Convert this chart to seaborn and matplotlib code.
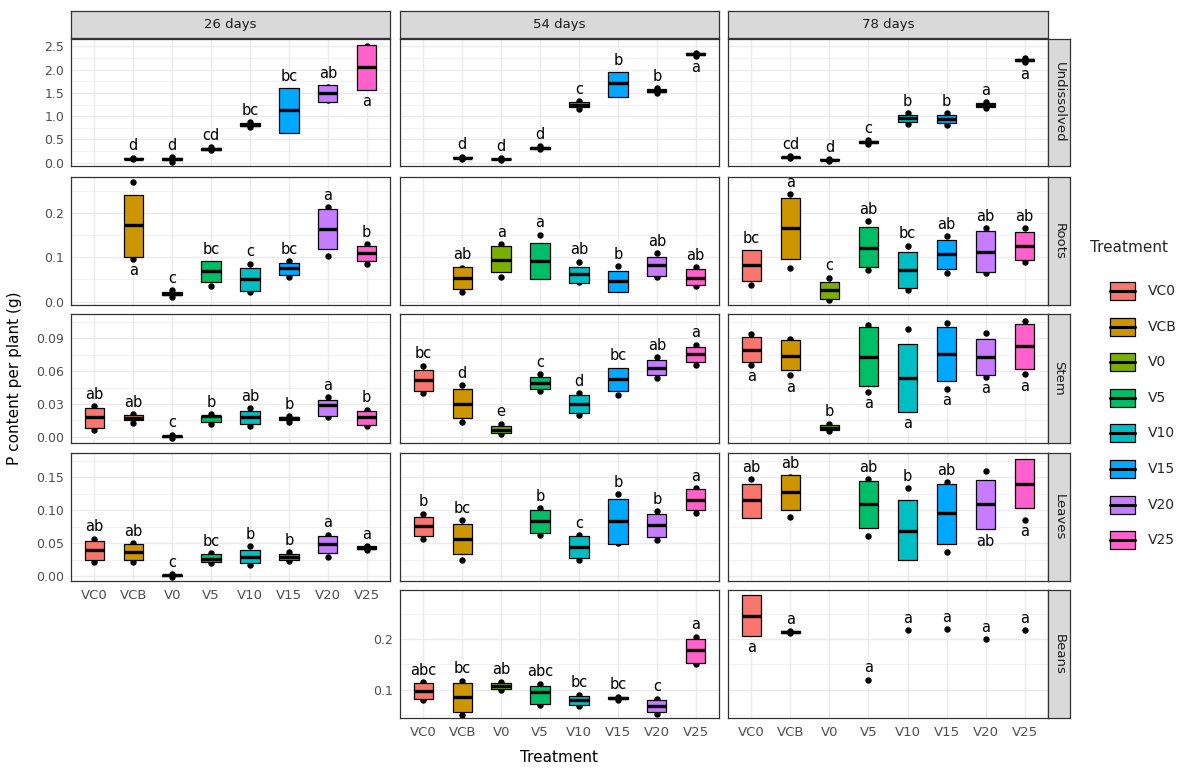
"""
P content per plant by fraction, treatment and sampling day.
Crossbars (mean +/- spread) with replicate points and letter groups,
faceted as fraction (rows) x day (columns), ggplot/theme_bw look.
"""

import numpy as np
import pandas as pd
import matplotlib
matplotlib.use("Agg")
import matplotlib.pyplot as plt
from matplotlib.patches import Rectangle
from matplotlib.ticker import MultipleLocator, FormatStrFormatter
import seaborn as sns

# ─── Categories ───────────────────────────────────────────────────────────
TREATMENTS = ["VC0", "VCB", "V0", "V5", "V10", "V15", "V20", "V25"]
COLORS = ["#F8766D", "#CD9600", "#7CAE00", "#00BE67",
          "#00BFC4", "#00A9FF", "#C77CFF", "#FF61CC"]
DAYS = ["26 days", "54 days", "78 days"]
FRACTIONS = ["Undissolved", "Roots", "Stem", "Leaves", "Beans"]

nan = np.nan

# ─── Data ─────────────────────────────────────────────────────────────────
# Undissolved
und26_mid = [nan, 0.09, 0.07, 0.30, 0.82, 1.13, 1.50, 2.06]
und26_lo = [nan, 0.08, 0.05, 0.28, 0.78, 0.65, 1.31, 1.57]
und26_hi = [nan, 0.10, 0.10, 0.32, 0.86, 1.61, 1.67, 2.54]
und26_pmin = [nan, 0.07, 0.02, 0.27, 0.76, 0.70, 1.35, 1.62]
und26_pmax = [nan, 0.11, 0.12, 0.33, 0.88, 1.55, 1.63, 2.50]
und26_let = ["", "d", "d", "cd", "bc", "bc", "ab", "a"]

und54_mid = [nan, 0.11, 0.08, 0.32, 1.24, 1.71, 1.55, 2.33]
und54_lo = [nan, 0.10, 0.07, 0.30, 1.19, 1.42, 1.52, 2.31]
und54_hi = [nan, 0.12, 0.09, 0.34, 1.30, 1.94, 1.59, 2.35]
und54_pmin = [nan, 0.09, 0.05, 0.29, 1.16, 1.50, 1.49, 2.30]
und54_pmax = [nan, 0.13, 0.10, 0.35, 1.32, 1.85, 1.61, 2.36]
und54_let = ["", "d", "d", "d", "c", "b", "b", "a"]

und78_mid = [nan, 0.12, 0.06, 0.445, 0.955, 0.95, 1.24, 2.21]
und78_lo = [nan, 0.11, 0.05, 0.42, 0.88, 0.85, 1.20, 2.18]
und78_hi = [nan, 0.13, 0.07, 0.47, 1.03, 1.03, 1.28, 2.24]
und78_pmin = [nan, 0.10, 0.04, 0.40, 0.83, 0.82, 1.17, 2.16]
und78_pmax = [nan, 0.14, 0.08, 0.49, 1.06, 1.06, 1.30, 2.26]
und78_let = ["", "cd", "d", "c", "b", "b", "a", "a"]

# Roots
roo26_mid = [nan, 0.172, 0.018, 0.070, 0.051, 0.075, 0.163, 0.110]
roo26_lo = [nan, 0.100, 0.014, 0.044, 0.025, 0.059, 0.118, 0.091]
roo26_hi = [nan, 0.241, 0.022, 0.092, 0.076, 0.088, 0.210, 0.126]
roo26_pmin = [nan, 0.096, 0.010, 0.035, 0.022, 0.055, 0.103, 0.086]
roo26_pmax = [nan, 0.270, 0.026, 0.085, 0.086, 0.091, 0.213, 0.129]
roo26_let = ["", "a", "c", "bc", "c", "bc", "a", "b"]

roo54_mid = [nan, 0.054, 0.094, 0.091, 0.062, 0.047, 0.082, 0.054]
roo54_lo = [nan, 0.028, 0.066, 0.050, 0.041, 0.022, 0.058, 0.037]
roo54_hi = [nan, 0.079, 0.126, 0.133, 0.079, 0.070, 0.101, 0.073]
roo54_pmin = [nan, 0.022, 0.056, 0.060, 0.045, 0.030, 0.055, 0.035]
roo54_pmax = [nan, 0.075, 0.130, 0.151, 0.090, 0.080, 0.109, 0.078]
roo54_let = ["", "ab", "a", "a", "ab", "b", "ab", "ab"]

roo78_mid = [0.082, 0.166, 0.026, 0.121, 0.072, 0.107, 0.112, 0.126]
roo78_lo = [0.047, 0.096, 0.006, 0.079, 0.031, 0.073, 0.066, 0.094]
roo78_hi = [0.116, 0.234, 0.045, 0.169, 0.112, 0.140, 0.159, 0.156]
roo78_pmin = [0.037, 0.075, 0.004, 0.071, 0.027, 0.064, 0.064, 0.090]
roo78_pmax = [0.110, 0.242, 0.054, 0.182, 0.126, 0.148, 0.165, 0.165]
roo78_let = ["bc", "a", "c", "ab", "bc", "ab", "ab", "ab"]

# Stem
ste26_mid = [0.018, 0.017, 0.0005, 0.019, 0.018, 0.017, 0.029, 0.018]
ste26_lo = [0.0085, 0.015, 0.0, 0.0136, 0.012, 0.0155, 0.019, 0.011]
ste26_hi = [0.026, 0.020, 0.001, 0.0194, 0.024, 0.018, 0.034, 0.024]
ste26_pmin = [0.006, 0.013, -0.001, 0.012, 0.0097, 0.014, 0.018, 0.0097]
ste26_pmax = [0.028, 0.021, 0.002, 0.021, 0.026, 0.019, 0.036, 0.025]
ste26_let = ["ab", "ab", "c", "b", "ab", "b", "a", "b"]

ste54_mid = [0.052, 0.030, 0.0067, 0.049, 0.030, 0.053, 0.063, 0.076]
ste54_lo = [0.042, 0.017, 0.0036, 0.044, 0.022, 0.042, 0.056, 0.068]
ste54_hi = [0.061, 0.044, 0.0097, 0.055, 0.038, 0.063, 0.070, 0.082]
ste54_pmin = [0.040, 0.014, 0.003, 0.042, 0.020, 0.038, 0.054, 0.066]
ste54_pmax = [0.065, 0.047, 0.012, 0.057, 0.040, 0.060, 0.073, 0.084]
ste54_let = ["bc", "d", "e", "c", "d", "bc", "ab", "a"]

ste78_mid = [0.079, 0.074, 0.0085, 0.073, 0.054, 0.076, 0.073, 0.083]
ste78_lo = [0.068, 0.061, 0.006, 0.046, 0.023, 0.051, 0.056, 0.062]
ste78_hi = [0.091, 0.088, 0.011, 0.1006, 0.085, 0.1006, 0.089, 0.103]
ste78_pmin = [0.066, 0.056, 0.005, 0.041, 0.030, 0.044, 0.055, 0.057]
ste78_pmax = [0.094, 0.089, 0.012, 0.102, 0.098, 0.104, 0.095, 0.106]
ste78_let = ["a", "a", "b", "a", "a", "a", "a", "a"]

# Leaves
lea26_mid = [0.039, 0.037, 0.001, 0.026, 0.029, 0.029, 0.048, 0.043]
lea26_lo = [0.024, 0.025, 0.0, 0.021, 0.020, 0.025, 0.035, 0.041]
lea26_hi = [0.053, 0.048, 0.002, 0.033, 0.039, 0.033, 0.061, 0.045]
lea26_pmin = [0.021, 0.022, -0.001, 0.020, 0.016, 0.023, 0.029, 0.039]
lea26_pmax = [0.057, 0.050, 0.003, 0.035, 0.045, 0.036, 0.063, 0.045]
lea26_let = ["ab", "ab", "c", "bc", "b", "b", "a", "a"]

lea54_mid = [0.076, 0.056, nan, 0.084, 0.044, 0.083, 0.077, 0.116]
lea54_lo = [0.061, 0.033, nan, 0.066, 0.028, 0.049, 0.060, 0.100]
lea54_hi = [0.090, 0.079, nan, 0.101, 0.061, 0.117, 0.094, 0.132]
lea54_pmin = [0.056, 0.025, nan, 0.062, 0.024, 0.050, 0.055, 0.096]
lea54_pmax = [0.095, 0.085, nan, 0.103, 0.062, 0.124, 0.099, 0.134]
lea54_let = ["b", "bc", "", "b", "c", "b", "b", "a"]

lea78_mid = [0.115, 0.128, nan, 0.109, 0.069, 0.096, 0.109, 0.140]
lea78_lo = [0.0875, 0.100, nan, 0.073, 0.024, 0.049, 0.071, 0.103]
lea78_hi = [0.140, 0.153, nan, 0.145, 0.115, 0.140, 0.146, 0.178]
lea78_pmin = [0.095, 0.090, nan, 0.061, 0.030, 0.037, 0.080, 0.085]
lea78_pmax = [0.1475, 0.150, nan, 0.147, 0.134, 0.143, 0.160, 0.170]
lea78_let = ["ab", "ab", "", "ab", "b", "ab", "ab", "a"]

# Beans (no 26 days sample)
bea54_mid = [0.098, 0.086, 0.108, 0.096, 0.080, 0.083, 0.068, 0.178]
bea54_lo = [0.082, 0.056, 0.102, 0.072, 0.070, 0.081, 0.056, 0.152]
bea54_hi = [0.114, 0.114, 0.114, 0.108, 0.088, 0.085, 0.080, 0.200]
bea54_pmin = [0.080, 0.050, 0.100, 0.070, 0.068, 0.080, 0.052, 0.150]
bea54_pmax = [0.115, 0.118, 0.116, 0.112, 0.090, 0.086, 0.082, 0.205]
bea54_let = ["abc", "bc", "ab", "abc", "bc", "bc", "c", "a"]

bea78_mid = [0.246, 0.214, nan, nan, nan, nan, nan, nan]
bea78_lo = [0.206, 0.212, nan, nan, nan, nan, nan, nan]
bea78_hi = [0.288, 0.216, nan, nan, nan, nan, nan, nan]
bea78_pmin = [0.220, 0.212, nan, 0.120, 0.218, 0.220, 0.200, 0.218]
bea78_pmax = [0.270, 0.216, nan, 0.120, 0.218, 0.220, 0.200, 0.218]
bea78_let = ["a", "a", "", "a", "a", "a", "a", "a"]

PANELS = {
    ("Undissolved", "26 days"): (und26_mid, und26_lo, und26_hi, und26_pmin, und26_pmax, und26_let),
    ("Undissolved", "54 days"): (und54_mid, und54_lo, und54_hi, und54_pmin, und54_pmax, und54_let),
    ("Undissolved", "78 days"): (und78_mid, und78_lo, und78_hi, und78_pmin, und78_pmax, und78_let),
    ("Roots", "26 days"): (roo26_mid, roo26_lo, roo26_hi, roo26_pmin, roo26_pmax, roo26_let),
    ("Roots", "54 days"): (roo54_mid, roo54_lo, roo54_hi, roo54_pmin, roo54_pmax, roo54_let),
    ("Roots", "78 days"): (roo78_mid, roo78_lo, roo78_hi, roo78_pmin, roo78_pmax, roo78_let),
    ("Stem", "26 days"): (ste26_mid, ste26_lo, ste26_hi, ste26_pmin, ste26_pmax, ste26_let),
    ("Stem", "54 days"): (ste54_mid, ste54_lo, ste54_hi, ste54_pmin, ste54_pmax, ste54_let),
    ("Stem", "78 days"): (ste78_mid, ste78_lo, ste78_hi, ste78_pmin, ste78_pmax, ste78_let),
    ("Leaves", "26 days"): (lea26_mid, lea26_lo, lea26_hi, lea26_pmin, lea26_pmax, lea26_let),
    ("Leaves", "54 days"): (lea54_mid, lea54_lo, lea54_hi, lea54_pmin, lea54_pmax, lea54_let),
    ("Leaves", "78 days"): (lea78_mid, lea78_lo, lea78_hi, lea78_pmin, lea78_pmax, lea78_let),
    ("Beans", "54 days"): (bea54_mid, bea54_lo, bea54_hi, bea54_pmin, bea54_pmax, bea54_let),
    ("Beans", "78 days"): (bea78_mid, bea78_lo, bea78_hi, bea78_pmin, bea78_pmax, bea78_let),
}

# letters placed under the bar instead of above it
LABEL_BELOW = {
    ("Undissolved", "26 days"): ["V25"],
    ("Undissolved", "54 days"): ["V25"],
    ("Undissolved", "78 days"): ["V25"],
    ("Roots", "26 days"): ["VCB"],
    ("Stem", "78 days"): ["VC0", "VCB", "V5", "V10", "V15", "V20", "V25"],
    ("Leaves", "78 days"): ["V20", "V25"],
    ("Beans", "78 days"): ["VC0"],
}

# ─── Layout (pixels) ──────────────────────────────────────────────────────
W, H = 1195, 769
COL_X = [(71, 390), (400, 719), (728, 1048)]
ROW_Y = [(39, 166), (177, 305), (314, 443), (453, 581), (590, 718)]
STRIP_TOP = (11, 38)
STRIP_RIGHT = (1048, 1070)

YLIM = {"Undissolved": (-0.07, 2.66), "Roots": (-0.0075, 0.281),
        "Stem": (-0.0055, 0.112), "Leaves": (-0.0076, 0.187),
        "Beans": (0.044, 0.297)}
YSTEP = {"Undissolved": 0.5, "Roots": 0.1, "Stem": 0.03,
         "Leaves": 0.05, "Beans": 0.1}
YFMT = {"Undissolved": "%.1f", "Roots": "%.1f", "Stem": "%.2f",
        "Leaves": "%.2f", "Beans": "%.1f"}

GRID = "#EBEBEB"
BORDER = "#333333"
STRIP_FILL = "#D9D9D9"
TICK_TXT = "#4D4D4D"

sns.set_theme(style="white")
plt.rcParams["font.family"] = ["DejaVu Sans"]

fig = plt.figure(figsize=(W / 100, H / 100), dpi=100)


def px_axes(x0, y0, x1, y1):
    return fig.add_axes([x0 / W, 1 - y1 / H, (x1 - x0) / W, (y1 - y0) / H])


def strip(x0, y0, x1, y1, label, rotation=0):
    sax = px_axes(x0, y0, x1, y1)
    sax.set_facecolor(STRIP_FILL)
    sax.set_xticks([])
    sax.set_yticks([])
    for s in sax.spines.values():
        s.set_color(BORDER)
        s.set_linewidth(0.9)
    sax.text(0.5, 0.5, label, ha="center", va="center", rotation=rotation,
             fontsize=9.5, color="#1A1A1A", transform=sax.transAxes)


# long table of replicate points
rows = []
for (frac, day), (mid, lo, hi, pmin, pmax, let) in PANELS.items():
    for t, a, b in zip(TREATMENTS, pmin, pmax):
        for v in sorted({a, b}):
            if not np.isnan(v):
                rows.append({"Fraction": frac, "Day": day, "Treatment": t, "value": v})
points = pd.DataFrame(rows)

pos = np.arange(len(TREATMENTS))

for r, frac in enumerate(FRACTIONS):
    for c, day in enumerate(DAYS):
        if (frac, day) not in PANELS:
            continue
        mid, lo, hi, pmin, pmax, let = [np.array(a) if i < 5 else a
                                         for i, a in enumerate(PANELS[(frac, day)])]
        x0, x1 = COL_X[c]
        y0, y1 = ROW_Y[r]
        ax = px_axes(x0, y0, x1, y1)

        sub = points[(points.Fraction == frac) & (points.Day == day)]
        sns.stripplot(data=sub, x="Treatment", y="value", order=TREATMENTS,
                      color="black", size=4.6, jitter=False, ax=ax,
                      linewidth=0, zorder=2)

        ok = ~np.isnan(mid)
        ax.bar(pos[ok], hi[ok] - lo[ok], bottom=lo[ok], width=0.5,
               color=[COLORS[i] for i in pos[ok]], edgecolor="black",
               linewidth=0.9, zorder=3)
        ax.hlines(mid[ok], pos[ok] - 0.25, pos[ok] + 0.25, color="black",
                  linewidth=2.4, zorder=4)

        below = LABEL_BELOW.get((frac, day), [])
        for i, txt in enumerate(let):
            if not txt:
                continue
            if TREATMENTS[i] in below:
                yv = np.nanmin([lo[i], pmin[i]])
                dy = -8.5
            else:
                yv = np.nanmax([hi[i], pmax[i]])
                dy = 8.5
            ax.annotate(txt, xy=(i, yv), xytext=(0, dy), textcoords="offset points",
                        ha="center", va="center", fontsize=10.5, color="black",
                        zorder=5)

        # axes, grid, frame
        ax.set_xlim(-0.6, 7.6)
        ax.set_ylim(*YLIM[frac])
        ax.set_facecolor("white")
        ax.yaxis.set_major_locator(MultipleLocator(YSTEP[frac]))
        ax.yaxis.set_minor_locator(MultipleLocator(YSTEP[frac] / 2))
        ax.yaxis.set_major_formatter(FormatStrFormatter(YFMT[frac]))
        ax.set_xticks(pos)
        ax.set_xticklabels(TREATMENTS)
        ax.grid(which="major", axis="both", color=GRID, linewidth=1.0, zorder=0)
        ax.grid(which="minor", axis="y", color=GRID, linewidth=0.5, zorder=0)
        ax.set_axisbelow(True)
        for s in ax.spines.values():
            s.set_color(BORDER)
            s.set_linewidth(0.9)
        ax.set_xlabel("")
        ax.set_ylabel("")

        show_y = (c == 0) or (frac == "Beans" and c == 1)
        show_x = (frac == "Beans") or (frac == "Leaves" and c == 0)
        ax.tick_params(axis="y", which="major", length=3 if show_y else 0,
                       color=BORDER, labelleft=show_y, labelsize=9,
                       labelcolor=TICK_TXT, pad=2)
        ax.tick_params(axis="y", which="minor", length=0)
        ax.tick_params(axis="x", which="major", length=3 if show_x else 0,
                       color=BORDER, labelbottom=show_x, labelsize=9.5,
                       labelcolor=TICK_TXT, pad=3)

        if r == 0:
            strip(x0, STRIP_TOP[0], x1, STRIP_TOP[1], day)
        if c == 2:
            strip(STRIP_RIGHT[0], y0, STRIP_RIGHT[1], y1, frac, rotation=-90)

# axis titles
fig.text(15 / W, 1 - 378 / H, "P content per plant (g)", rotation=90,
         ha="center", va="center", fontsize=11, color="black")
fig.text(559 / W, 1 - 757 / H, "Treatment", ha="center", va="center",
         fontsize=11, color="black")

# ─── Legend ───────────────────────────────────────────────────────────────
lax = px_axes(1080, 230, 1195, 560)
lax.set_xlim(1080, 1195)
lax.set_ylim(560, 230)
lax.axis("off")
lax.text(1090, 248, "Treatment", ha="left", va="center", fontsize=11)
for i, (t, col) in enumerate(zip(TREATMENTS, COLORS)):
    yc = 291 + i * 35.6
    lax.add_patch(Rectangle((1110, yc - 9), 25, 18, facecolor=col,
                            edgecolor="black", linewidth=0.9))
    lax.plot([1110, 1135], [yc, yc], color="black", linewidth=2.2)
    lax.text(1148, yc, t, ha="left", va="center", fontsize=10)

fig.savefig("out.png", dpi=100)
